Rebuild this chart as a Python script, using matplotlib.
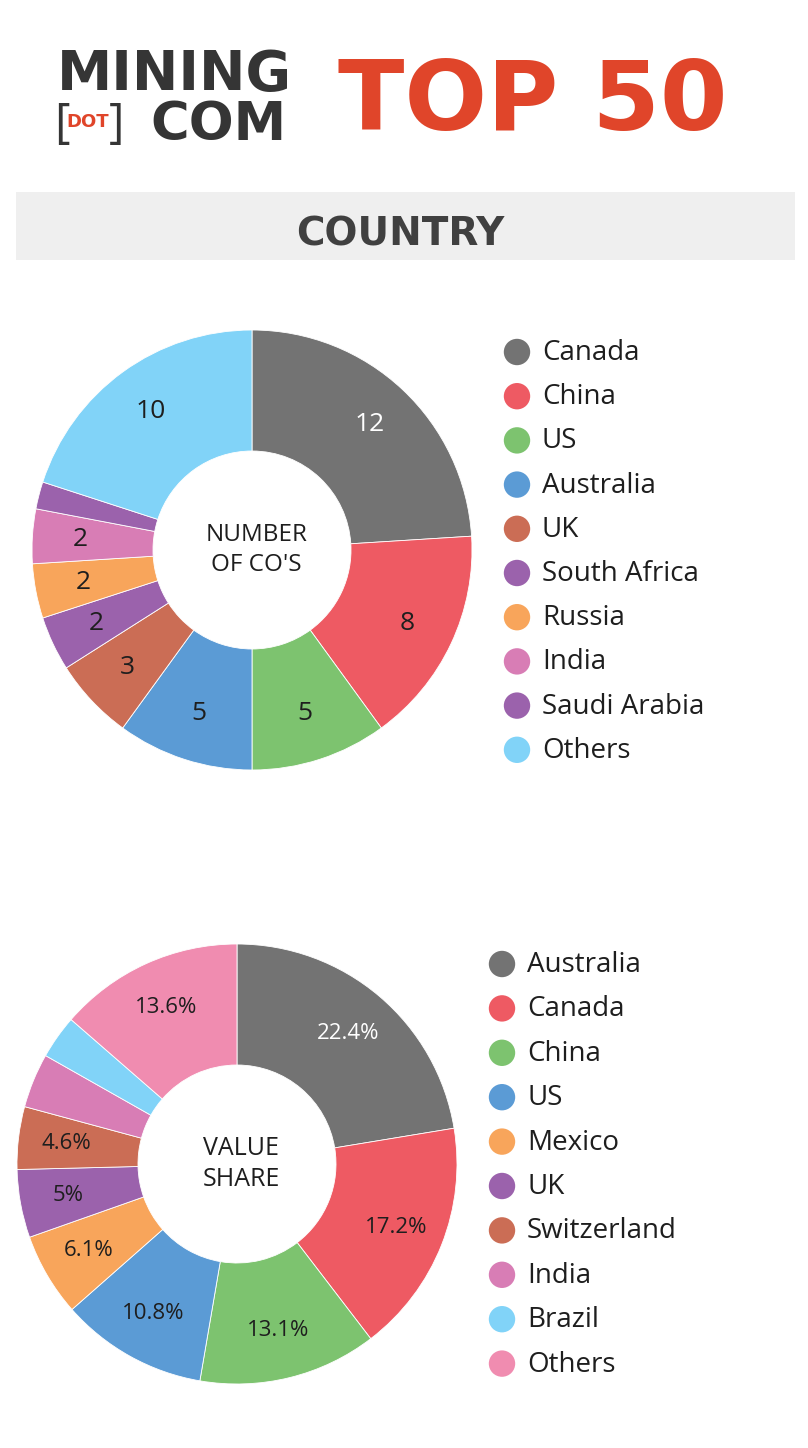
import matplotlib
matplotlib.use('Agg')
import matplotlib.pyplot as plt
from matplotlib.patches import Rectangle
import numpy as np

W, H = 808, 1448
BODY = ['Open Sans', 'DejaVu Sans']
BOLD = ['DejaVu Sans']
DARK = '#353535'
RED = '#E0452A'
GRAY = '#737373'

# --- data ---
count_labels = ['Canada', 'China', 'US', 'Australia', 'UK', 'South Africa',
                'Russia', 'India', 'Saudi Arabia', 'Others']
count_values = [12, 8, 5, 5, 3, 2, 2, 2, 1, 10]
count_colors = [GRAY, '#EE5A63', '#7DC36F', '#5B9BD5', '#CB6D55',
                '#9B62AC', '#F8A55B', '#D87DB5', '#9B62AC', '#81D3F8']

share_labels = ['Australia', 'Canada', 'China', 'US', 'Mexico', 'UK',
                'Switzerland', 'India', 'Brazil', 'Others']
share_values = [22.4, 17.2, 13.1, 10.8, 6.1, 5.0, 4.6, 4.0, 3.2, 13.6]
share_text = ['22.4%', '17.2%', '13.1%', '10.8%', '6.1%', '5%', '4.6%', '', '', '13.6%']
share_colors = [GRAY, '#EE5A63', '#7DC36F', '#5B9BD5', '#F8A55B',
                '#9B62AC', '#CB6D55', '#D87DB5', '#81D3F8', '#F08CB0']

fig = plt.figure(figsize=(W / 100, H / 100), dpi=100)
fig.patch.set_facecolor('white')

# overlay axes in pixel coordinates for header, band and legends
bg = fig.add_axes([0, 0, 1, 1])
bg.set_xlim(0, W)
bg.set_ylim(H, 0)
bg.axis('off')

# header logo
bg.text(57, 90, 'MINING', fontsize=40, fontweight='bold', color=DARK,
        family=BOLD, ha='left', va='baseline')
bg.text(54, 137, '[', fontsize=34, color=DARK,
        family=BODY, ha='left', va='baseline')
bg.text(88, 127, 'DOT', fontsize=13, fontweight='bold', color=RED,
        family=BOLD, ha='center', va='baseline')
bg.text(124, 137, ']', fontsize=34, color=DARK,
        family=BODY, ha='right', va='baseline')
bg.text(150, 140, 'COM', fontsize=38, fontweight='bold', color=DARK,
        family=BOLD, ha='left', va='baseline')
bg.text(338, 130, 'TOP 50', fontsize=70, fontweight='bold', color=RED,
        family=BOLD, ha='left', va='baseline')

# section band
bg.add_patch(Rectangle((16, 192), 779, 68, facecolor='#EFEFEF', edgecolor='none'))
bg.text(400, 246, 'COUNTRY', fontsize=28, fontweight='bold', color='#404040',
        family=BOLD, ha='center', va='baseline')


def donut(cx, cy, r, values, colors, texts, fs, center, center_fs):
    ax = fig.add_axes([(cx - r) / W, 1 - (cy + r) / H, 2 * r / W, 2 * r / H])
    ax.set_facecolor('none')
    wedges, _ = ax.pie(values, colors=colors, startangle=90, counterclock=False,
                       radius=1, wedgeprops=dict(width=0.55, edgecolor='white',
                                                 linewidth=0.6))
    for w, t, c in zip(wedges, texts, colors):
        if not t:
            continue
        ang = np.deg2rad((w.theta1 + w.theta2) / 2)
        col = 'white' if c == GRAY else '#1E1E1E'
        ax.text(0.78 * np.cos(ang), 0.78 * np.sin(ang), t, fontsize=fs, color=col,
                family=BODY, ha='center', va='center')
    ax.text(0.02, 0, center, fontsize=center_fs, color='#1E1E1E', family=BODY,
            ha='center', va='center', linespacing=1.3)
    ax.set_xlim(-1, 1)
    ax.set_ylim(-1, 1)
    ax.set_aspect('equal')
    ax.axis('off')
    return ax


def legend(x, y0, dy, labels, colors):
    for i, (lab, col) in enumerate(zip(labels, colors)):
        y = y0 + i * dy
        bg.scatter([x], [y], s=19 ** 2, color=col, edgecolors='none')
        bg.text(x + 25, y + 1, lab, fontsize=20, color='#1E1E1E', family=BODY,
                ha='left', va='center')


donut(252, 550, 220, count_values, count_colors,
      [str(v) if v >= 2 else '' for v in count_values], 19,
      'NUMBER\nOF CO\'S', 17.5)
legend(517, 352, 44.2, count_labels, count_colors)

donut(237, 1164, 220, share_values, share_colors, share_text, 16,
      'VALUE\nSHARE', 18)
legend(502, 964, 44.4, share_labels, share_colors)

fig.savefig('out.png', dpi=100, facecolor='white')
